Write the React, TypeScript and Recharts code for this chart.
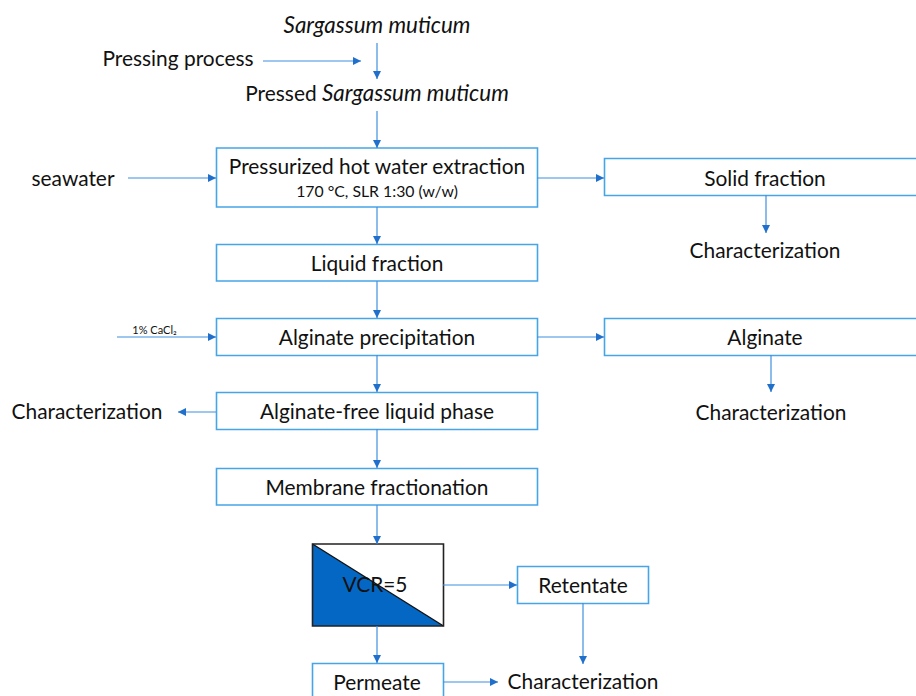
import { Area, ComposedChart, Line, ReferenceArea, Scatter, XAxis, YAxis } from 'recharts';

const WIDTH = 916;
const HEIGHT = 696;
const BOX_BLUE = '#45a5e6';
const LINE_BLUE = '#3f8fe0';
const HEAD_BLUE = '#1f6fcb';
const SPLIT_BLUE = '#0567c4';
const INK = '#111';
const FONT = 'Lato, sans-serif';

// flow steps as [left, top, right, bottom] in picture units
const stepBoxes = [
  [216.5, 148, 537.5, 207],
  [216.5, 244.5, 537.5, 281],
  [216.5, 318.5, 537.5, 355.5],
  [216.5, 392.5, 537.5, 429.5],
  [216.5, 468.5, 537.5, 505],
  [604.5, 158.5, 930, 195.5],
  [604.5, 318.5, 930, 355.5],
  [517.5, 566.5, 648.5, 603.5],
  [312.5, 663.5, 443.5, 705],
];
const splitterBox = [312.5, 544, 443.5, 626];

// arrows as [fromX, fromY, toX, toY], the head sits on the "to" end
const arrows = [
  [377, 43, 377, 79],
  [263, 61, 361, 61],
  [377, 111, 377, 148],
  [128, 178, 216, 178],
  [377, 207, 377, 244],
  [537, 178, 604, 178],
  [766, 195, 766, 233],
  [377, 281, 377, 318],
  [117, 337, 216, 337],
  [537, 337, 604, 337],
  [377, 355, 377, 392],
  [771, 355, 771, 392],
  [216, 412, 178, 412],
  [377, 429, 377, 468],
  [377, 505, 377, 544],
  [443, 585, 517, 585],
  [377, 626, 377, 663],
  [583, 603, 583, 664],
  [443, 682, 498, 682],
];

const splitterEdge = [
  { x: 312.5, y: 544 },
  { x: 443.5, y: 626 },
];

const mainLabels = [
  { x: 178, y: 57, text: 'Pressing process' },
  { x: 73, y: 177, text: 'seawater' },
  { x: 377, y: 165.5, text: 'Pressurized hot water extraction' },
  { x: 377, y: 262, text: 'Liquid fraction' },
  { x: 377, y: 336, text: 'Alginate precipitation' },
  { x: 377, y: 410, text: 'Alginate-free liquid phase' },
  { x: 377, y: 486, text: 'Membrane fractionation' },
  { x: 765, y: 177, text: 'Solid fraction' },
  { x: 765, y: 249, text: 'Characterization' },
  { x: 765, y: 336, text: 'Alginate' },
  { x: 771, y: 411, text: 'Characterization' },
  { x: 87, y: 410, text: 'Characterization' },
  { x: 375, y: 583, text: 'VCR=5' },
  { x: 583, y: 584, text: 'Retentate' },
  { x: 377, y: 681, text: 'Permeate' },
  { x: 583, y: 680, text: 'Characterization' },
];
const speciesLabels = [
  { x: 377, y: 24, lead: '', text: 'Sargassum muticum' },
  { x: 377, y: 92, lead: 'Pressed ', text: 'Sargassum muticum' },
];
const conditionLabels = [{ x: 377, y: 190, text: '170 °C, SLR 1:30 (w/w)' }];
const reagentLabels = [{ x: 154.5, y: 329, text: '1% CaCl₂' }];

const textShape = (size: number) => (props: any) => (
  <text
    x={props.cx}
    y={props.cy}
    textAnchor="middle"
    dominantBaseline="central"
    fontFamily={FONT}
    fontSize={size}
    fill={INK}
  >
    {props.payload.text}
  </text>
);

const speciesShape = (props: any) => (
  <text
    x={props.cx}
    y={props.cy}
    textAnchor="middle"
    dominantBaseline="central"
    fontFamily={FONT}
    fontSize={20.9}
    fill={INK}
  >
    {props.payload.lead}
    <tspan fontStyle="italic" fontSize={22.4}>
      {props.payload.text}
    </tspan>
  </text>
);

const arrowDot = (dx: number, dy: number) => (props: any) => {
  const { cx, cy, index } = props;
  if (index !== 1) return <g key={index} />;
  const len = 8;
  const half = 4;
  const ux = Math.sign(dx);
  const uy = Math.sign(dy);
  const pts = [
    [cx, cy],
    [cx - ux * len - uy * half, cy - uy * len - ux * half],
    [cx - ux * len + uy * half, cy - uy * len + ux * half],
  ];
  return <polygon key={index} points={pts.map((p) => p.join(',')).join(' ')} fill={HEAD_BLUE} />;
};

export default function App() {
  return (
    <div style={{ position: 'absolute', left: 0, top: 0, width: WIDTH, height: HEIGHT, background: '#fff' }}>
      <ComposedChart width={WIDTH} height={HEIGHT} margin={{ top: 0, right: 0, bottom: 0, left: 0 }}>
        <XAxis type="number" dataKey="x" domain={[0, WIDTH]} hide />
        <YAxis type="number" dataKey="y" domain={[0, HEIGHT]} reversed hide />

        {stepBoxes.map(([x1, y1, x2, y2], i) => (
          <ReferenceArea
            key={i}
            x1={x1}
            y1={y1}
            x2={x2}
            y2={y2}
            ifOverflow="visible"
            fill="#fff"
            fillOpacity={1}
            stroke={BOX_BLUE}
            strokeWidth={1.6}
          />
        ))}

        <Area
          data={splitterEdge}
          dataKey="y"
          baseValue={splitterBox[3]}
          type="linear"
          fill={SPLIT_BLUE}
          fillOpacity={1}
          stroke="#111"
          strokeWidth={1.4}
          dot={false}
          activeDot={false}
          isAnimationActive={false}
        />
        <ReferenceArea
          x1={splitterBox[0]}
          y1={splitterBox[1]}
          x2={splitterBox[2]}
          y2={splitterBox[3]}
          ifOverflow="visible"
          fill="none"
          stroke="#222"
          strokeWidth={1.6}
        />

        {arrows.map(([x1, y1, x2, y2], i) => (
          <Line
            key={i}
            data={[
              { x: x1, y: y1 },
              { x: x2, y: y2 },
            ]}
            dataKey="y"
            type="linear"
            stroke={LINE_BLUE}
            strokeWidth={1.2}
            dot={arrowDot(x2 - x1, y2 - y1)}
            activeDot={false}
            isAnimationActive={false}
          />
        ))}

        <Scatter data={mainLabels} shape={textShape(20.9)} isAnimationActive={false} />
        <Scatter data={speciesLabels} shape={speciesShape} isAnimationActive={false} />
        <Scatter data={conditionLabels} shape={textShape(15.8)} isAnimationActive={false} />
        <Scatter data={reagentLabels} shape={textShape(11)} isAnimationActive={false} />
      </ComposedChart>
    </div>
  );
}
